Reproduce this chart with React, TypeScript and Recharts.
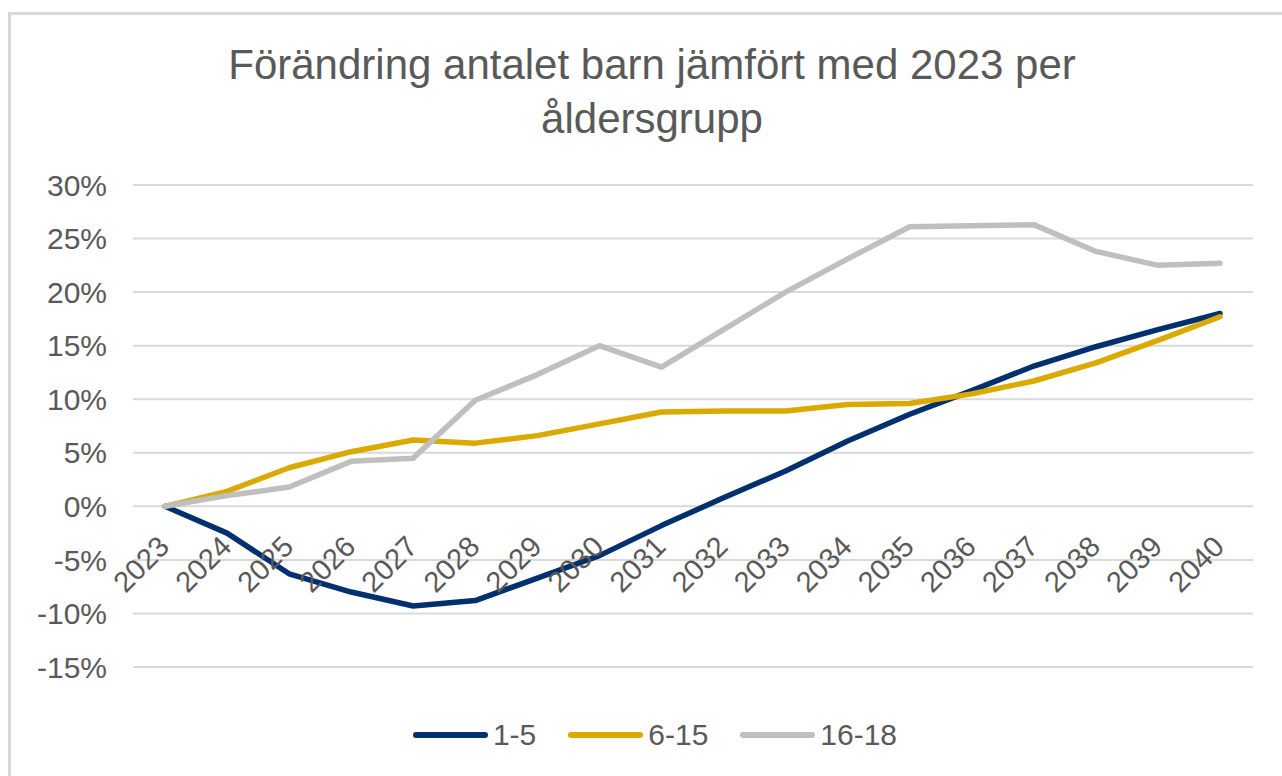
import { CartesianGrid, Legend, Line, LineChart, XAxis, YAxis } from "recharts";

const years = ["2023", "2024", "2025", "2026", "2027", "2028", "2029", "2030", "2031", "2032", "2033", "2034", "2035", "2036", "2037", "2038", "2039", "2040"];
const age1to5 = [0, -2.5, -6.3, -8.0, -9.3, -8.8, -6.7, -4.6, -1.8, 0.8, 3.3, 6.1, 8.6, 10.8, 13.1, 14.9, 16.5, 18.0];
const age6to15 = [0, 1.4, 3.6, 5.1, 6.2, 5.9, 6.6, 7.7, 8.8, 8.9, 8.9, 9.5, 9.6, 10.5, 11.7, 13.4, 15.5, 17.7];
const age16to18 = [0, 1.0, 1.8, 4.2, 4.5, 9.9, 12.3, 15.0, 13.0, 16.5, 20.0, 23.1, 26.1, 26.2, 26.3, 23.8, 22.5, 22.7];
const seriesNames = ["1-5", "6-15", "16-18"];
const yTicks = [-15, -10, -5, 0, 5, 10, 15, 20, 25, 30];

const rows = years.map((y, i) => ({ year: y, a: age1to5[i], b: age6to15[i], c: age16to18[i] }));

const FONT = "'Liberation Sans', Arial, sans-serif";
const TEXT = "#595959";
const W = 1282;
const H = 776;
const PLOT_TOP = 185;
const PLOT_BOTTOM = 667;
const Y_MIN = -15;
const Y_MAX = 30;
// distance from plot bottom up to the 0% line, labels sit there like in Excel
const ZERO_UP = ((PLOT_BOTTOM - PLOT_TOP) * (0 - Y_MIN)) / (Y_MAX - Y_MIN);

const YearTick = (props: any) => {
  const { x, y, payload } = props;
  const px = x + 6;
  const py = y - ZERO_UP + 42;
  return (
    <text
      x={px}
      y={py}
      textAnchor="end"
      transform={`rotate(-45, ${px}, ${py})`}
      fontSize={29}
      fontFamily={FONT}
      fill={TEXT}
    >
      {payload.value}
    </text>
  );
};

const LegendRow = ({ payload }: any) => {
  const items = [...(payload || [])].sort((p: any, q: any) => seriesNames.indexOf(p.value) - seriesNames.indexOf(q.value));
  return (
    <div style={{ display: "flex", justifyContent: "center", alignItems: "center", paddingLeft: 28, fontFamily: FONT }}>
      {items.map((p: any, i: number) => (
        <div key={p.value} style={{ display: "flex", alignItems: "center", marginLeft: i === 0 ? 0 : 32 }}>
          <div style={{ width: 75, height: 6, borderRadius: 3, background: p.color, marginRight: 5 }} />
          <span style={{ fontSize: 30, color: TEXT }}>{p.value}</span>
        </div>
      ))}
    </div>
  );
};

export default function App() {
  return (
    <div style={{ position: "absolute", left: 0, top: 0, width: W, height: H, overflow: "hidden", background: "#fff" }}>
      <div style={{ position: "absolute", left: 8, top: 12, width: 1400, height: 900, border: "3px solid #d9d9d9" }} />
      <div
        style={{
          position: "absolute",
          left: 11,
          top: 38,
          width: W,
          textAlign: "center",
          fontFamily: FONT,
          fontSize: 42,
          lineHeight: "54px",
          color: TEXT,
        }}
      >
        Förändring antalet barn jämfört med 2023 per
        <br />
        åldersgrupp
      </div>
      <div style={{ position: "absolute", left: 0, top: 0 }}>
        <LineChart width={W} height={H} data={rows} margin={{ top: PLOT_TOP, right: 29, bottom: H - PLOT_BOTTOM - 30, left: 33 }}>
          <CartesianGrid horizontal vertical={false} stroke="#d9d9d9" strokeWidth={2} />
          <XAxis
            dataKey="year"
            height={30}
            axisLine={false}
            tickLine={false}
            tickSize={0}
            tickMargin={0}
            interval={0}
            padding={{ left: 32, right: 33 }}
            tick={<YearTick />}
          />
          <YAxis
            width={100}
            domain={[Y_MIN, Y_MAX]}
            ticks={yTicks}
            interval={0}
            axisLine={false}
            tickLine={false}
            tickSize={0}
            tickMargin={26}
            tickFormatter={(v: number) => `${v}%`}
            tick={{ fontSize: 30, fill: TEXT, fontFamily: FONT }}
          />
          <Legend
            layout="horizontal"
            verticalAlign="middle"
            align="center"
            wrapperStyle={{ top: 718, left: 0, width: W }}
            content={<LegendRow />}
          />
          <Line type="linear" dataKey="a" name="1-5" stroke="#00306e" strokeWidth={5.5} dot={false} activeDot={false} strokeLinecap="round" strokeLinejoin="round" isAnimationActive={false} />
          <Line type="linear" dataKey="b" name="6-15" stroke="#daaa00" strokeWidth={5.5} dot={false} activeDot={false} strokeLinecap="round" strokeLinejoin="round" isAnimationActive={false} />
          <Line type="linear" dataKey="c" name="16-18" stroke="#bebfbe" strokeWidth={5.5} dot={false} activeDot={false} strokeLinecap="round" strokeLinejoin="round" isAnimationActive={false} />
        </LineChart>
      </div>
    </div>
  );
}
